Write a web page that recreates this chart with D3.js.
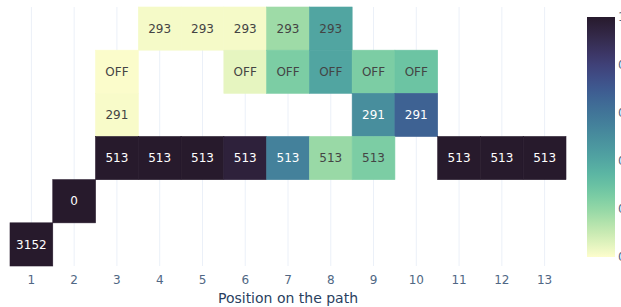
<!DOCTYPE html>
<html>
<head>
<meta charset="utf-8">
<script src="https://cdn.jsdelivr.net/npm/d3@7"></script>
<style>
    body { margin: 0; background: #fff; }
    svg { display: block; font-family: "DejaVu Sans", Verdana, sans-serif; }
</style>
</head>
<body>
<div id="chart"></div>
<script>
// Positions sur le chemin (axe x)
const positions = [1, 2, 3, 4, 5, 6, 7, 8, 9, 10, 11, 12, 13];
// Lignes (de haut en bas), le libellé est aussi le texte de la cellule
const rows = ['293', 'OFF', '291', '513', '0', '3152'];
// Valeurs normalisées [position, valeur] pour chaque ligne
const cells293 = [[4, 0.015], [5, 0.015], [6, 0.015], [7, 0.18], [8, 0.41]];
const cellsOff = [[3, 0.003], [6, 0.045], [7, 0.25], [8, 0.41], [9, 0.25], [10, 0.29]];
const cells291 = [[3, 0.01], [9, 0.5], [10, 0.67]];
const cells513 = [[3, 1], [4, 1], [5, 1], [6, 0.96], [7, 0.55], [8, 0.19], [9, 0.25], [11, 1], [12, 1], [13, 1]];
const cells0 = [[2, 1]];
const cells3152 = [[1, 1]];
const colorTicks = [0, 0.2, 0.4, 0.6, 0.8, 1];

// Palette "deep" (plotly)
const deep = ['rgb(253,253,204)', 'rgb(206,236,179)', 'rgb(156,219,165)', 'rgb(111,201,163)',
    'rgb(86,177,163)', 'rgb(76,153,160)', 'rgb(68,130,155)', 'rgb(62,108,150)',
    'rgb(62,82,143)', 'rgb(64,60,115)', 'rgb(54,43,77)', 'rgb(39,26,44)'];

const data = [];
[cells293, cellsOff, cells291, cells513, cells0, cells3152].forEach((list, i) => {
    list.forEach(([pos, v]) => data.push({ row: rows[i], pos: pos, value: v }));
});

const width = 621, height = 307;
const margin = { top: 7, right: 55, bottom: 41, left: 10 };
const innerWidth = width - margin.left - margin.right;
const innerHeight = height - margin.top - margin.bottom;

const svg = d3.select('#chart').append('svg')
    .attr('width', width)
    .attr('height', height);

const g = svg.append('g')
    .attr('transform', `translate(${margin.left},${margin.top})`);

const xScale = d3.scaleBand().domain(positions).range([0, innerWidth]);
const yScale = d3.scaleBand().domain(rows).range([0, innerHeight]);
const colorScale = d3.scaleSequential(d3.interpolateRgbBasis(deep)).domain([0, 1]);

// Grille verticale
g.selectAll('.grid')
    .data(positions)
    .enter()
    .append('line')
    .attr('x1', d => xScale(d) + xScale.bandwidth() / 2)
    .attr('x2', d => xScale(d) + xScale.bandwidth() / 2)
    .attr('y1', 0)
    .attr('y2', innerHeight)
    .attr('stroke', '#ebf0f8')
    .attr('stroke-width', 1);

// Cellules (un léger trait de même couleur pour éviter les joints)
g.selectAll('.cell')
    .data(data)
    .enter()
    .append('rect')
    .attr('x', d => xScale(d.pos))
    .attr('y', d => yScale(d.row))
    .attr('width', xScale.bandwidth())
    .attr('height', yScale.bandwidth())
    .attr('fill', d => colorScale(d.value))
    .attr('stroke', d => colorScale(d.value))
    .attr('stroke-width', 0.6);

g.selectAll('.cell-label')
    .data(data)
    .enter()
    .append('text')
    .attr('x', d => xScale(d.pos) + xScale.bandwidth() / 2)
    .attr('y', d => yScale(d.row) + yScale.bandwidth() / 2)
    .attr('dy', '0.35em')
    .attr('text-anchor', 'middle')
    .style('font-size', '12px')
    .style('fill', d => d.value > 0.45 ? '#fff' : '#444')
    .text(d => d.row);

// Axe x
const xAxis = g.append('g')
    .attr('transform', `translate(0,${innerHeight})`)
    .call(d3.axisBottom(xScale).tickSize(0).tickPadding(9));
xAxis.select('.domain').remove();
xAxis.selectAll('text')
    .style('font-family', '"DejaVu Sans", Verdana, sans-serif')
    .style('font-size', '12px')
    .style('fill', '#506784');

svg.append('text')
    .attr('x', margin.left + innerWidth / 2)
    .attr('y', 303)
    .attr('text-anchor', 'middle')
    .style('font-size', '14px')
    .style('fill', '#2a3f5f')
    .text('Position on the path');

// Barre de couleur
const cbX = 587, cbW = 28, cbTop = 17, cbBottom = 257;
const defs = svg.append('defs');
const grad = defs.append('linearGradient')
    .attr('id', 'cb-grad')
    .attr('x1', 0).attr('y1', 1).attr('x2', 0).attr('y2', 0);
d3.range(0, 1.0001, 0.05).forEach(t => {
    grad.append('stop').attr('offset', t).attr('stop-color', colorScale(t));
});
svg.append('rect')
    .attr('x', cbX)
    .attr('y', cbTop)
    .attr('width', cbW)
    .attr('height', cbBottom - cbTop)
    .attr('fill', 'url(#cb-grad)');

// Étiquettes de la barre (coupées par le bord droit, comme dans l'original)
const cbScale = d3.scaleLinear().domain([0, 1]).range([cbBottom, cbTop]);
svg.selectAll('.cb-tick')
    .data(colorTicks)
    .enter()
    .append('text')
    .attr('x', cbX + cbW + 3)
    .attr('y', d => cbScale(d))
    .attr('dy', '0.35em')
    .style('font-size', '12px')
    .style('fill', '#506784')
    .text(d => d);
</script>
</body>
</html>
